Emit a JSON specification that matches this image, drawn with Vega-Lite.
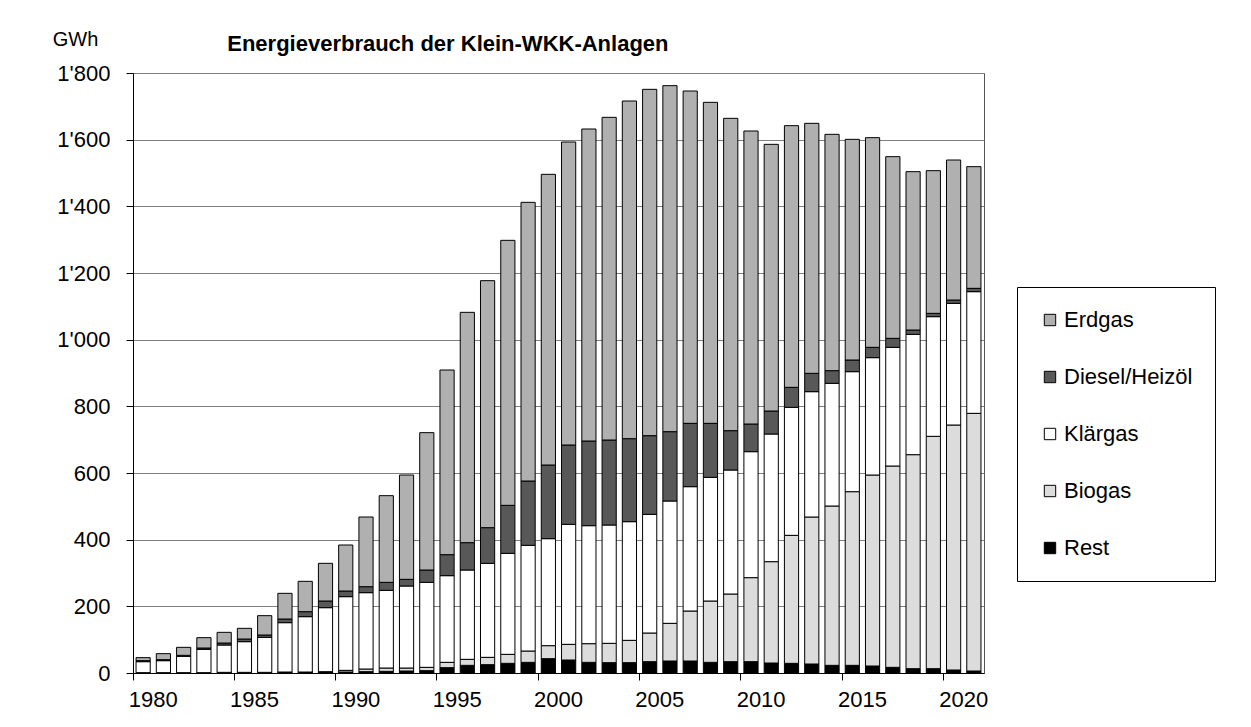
{
  "$schema": "https://vega.github.io/schema/vega-lite/v6.json",
  "width": 851,
  "height": 600,
  "autosize": {"type": "none"},
  "padding": {"left": 133, "top": 73, "right": 267, "bottom": 54},
  "background": "white",
  "title": {
    "text": "Energieverbrauch der Klein-WKK-Anlagen",
    "anchor": "start",
    "dx": 175,
    "dy": 47,
    "fontSize": 22,
    "fontWeight": "bold",
    "font": "Liberation Sans",
    "color": "black",
    "offset": 20
  },
  "data": {
    "values": [
      {"year": 1980, "Rest": 1, "Biogas": 0, "Klärgas": 33, "Diesel/Heizöl": 3, "Erdgas": 9},
      {"year": 1981, "Rest": 1, "Biogas": 0, "Klärgas": 36, "Diesel/Heizöl": 3, "Erdgas": 18},
      {"year": 1982, "Rest": 1, "Biogas": 0, "Klärgas": 49, "Diesel/Heizöl": 3, "Erdgas": 24},
      {"year": 1983, "Rest": 1, "Biogas": 0, "Klärgas": 70, "Diesel/Heizöl": 4, "Erdgas": 31},
      {"year": 1984, "Rest": 2, "Biogas": 0, "Klärgas": 82, "Diesel/Heizöl": 6, "Erdgas": 32},
      {"year": 1985, "Rest": 2, "Biogas": 0, "Klärgas": 92, "Diesel/Heizöl": 8, "Erdgas": 32},
      {"year": 1986, "Rest": 2, "Biogas": 0, "Klärgas": 105, "Diesel/Heizöl": 7, "Erdgas": 58},
      {"year": 1987, "Rest": 3, "Biogas": 0, "Klärgas": 148, "Diesel/Heizöl": 11, "Erdgas": 77},
      {"year": 1988, "Rest": 3, "Biogas": 0, "Klärgas": 166, "Diesel/Heizöl": 15, "Erdgas": 91},
      {"year": 1989, "Rest": 3, "Biogas": 1, "Klärgas": 192, "Diesel/Heizöl": 20, "Erdgas": 113},
      {"year": 1990, "Rest": 3, "Biogas": 5, "Klärgas": 221, "Diesel/Heizöl": 17, "Erdgas": 138},
      {"year": 1991, "Rest": 4, "Biogas": 8, "Klärgas": 229, "Diesel/Heizöl": 18, "Erdgas": 209},
      {"year": 1992, "Rest": 5, "Biogas": 10, "Klärgas": 233, "Diesel/Heizöl": 24, "Erdgas": 260},
      {"year": 1993, "Rest": 6, "Biogas": 9, "Klärgas": 246, "Diesel/Heizöl": 20, "Erdgas": 313},
      {"year": 1994, "Rest": 7, "Biogas": 10, "Klärgas": 255, "Diesel/Heizöl": 37, "Erdgas": 412},
      {"year": 1995, "Rest": 16, "Biogas": 16, "Klärgas": 260, "Diesel/Heizöl": 63, "Erdgas": 554},
      {"year": 1996, "Rest": 23, "Biogas": 18, "Klärgas": 268, "Diesel/Heizöl": 82, "Erdgas": 691},
      {"year": 1997, "Rest": 25, "Biogas": 22, "Klärgas": 282, "Diesel/Heizöl": 107, "Erdgas": 741},
      {"year": 1998, "Rest": 29, "Biogas": 27, "Klärgas": 303, "Diesel/Heizöl": 144, "Erdgas": 795},
      {"year": 1999, "Rest": 32, "Biogas": 34, "Klärgas": 317, "Diesel/Heizöl": 193, "Erdgas": 836},
      {"year": 2000, "Rest": 43, "Biogas": 39, "Klärgas": 321, "Diesel/Heizöl": 221, "Erdgas": 872},
      {"year": 2001, "Rest": 39, "Biogas": 47, "Klärgas": 360, "Diesel/Heizöl": 238, "Erdgas": 909},
      {"year": 2002, "Rest": 32, "Biogas": 56, "Klärgas": 354, "Diesel/Heizöl": 254, "Erdgas": 936},
      {"year": 2003, "Rest": 31, "Biogas": 58, "Klärgas": 355, "Diesel/Heizöl": 255, "Erdgas": 968},
      {"year": 2004, "Rest": 31, "Biogas": 67, "Klärgas": 356, "Diesel/Heizöl": 249, "Erdgas": 1013},
      {"year": 2005, "Rest": 34, "Biogas": 86, "Klärgas": 356, "Diesel/Heizöl": 236, "Erdgas": 1039},
      {"year": 2006, "Rest": 36, "Biogas": 113, "Klärgas": 367, "Diesel/Heizöl": 208, "Erdgas": 1038},
      {"year": 2007, "Rest": 36, "Biogas": 150, "Klärgas": 373, "Diesel/Heizöl": 190, "Erdgas": 997},
      {"year": 2008, "Rest": 32, "Biogas": 184, "Klärgas": 371, "Diesel/Heizöl": 162, "Erdgas": 963},
      {"year": 2009, "Rest": 34, "Biogas": 203, "Klärgas": 372, "Diesel/Heizöl": 118, "Erdgas": 937},
      {"year": 2010, "Rest": 34, "Biogas": 252, "Klärgas": 378, "Diesel/Heizöl": 83, "Erdgas": 879},
      {"year": 2011, "Rest": 30, "Biogas": 304, "Klärgas": 383, "Diesel/Heizöl": 69, "Erdgas": 800},
      {"year": 2012, "Rest": 29, "Biogas": 384, "Klärgas": 384, "Diesel/Heizöl": 60, "Erdgas": 785},
      {"year": 2013, "Rest": 27, "Biogas": 441, "Klärgas": 376, "Diesel/Heizöl": 55, "Erdgas": 750},
      {"year": 2014, "Rest": 23, "Biogas": 478, "Klärgas": 368, "Diesel/Heizöl": 38, "Erdgas": 709},
      {"year": 2015, "Rest": 23, "Biogas": 521, "Klärgas": 360, "Diesel/Heizöl": 35, "Erdgas": 662},
      {"year": 2016, "Rest": 21, "Biogas": 573, "Klärgas": 352, "Diesel/Heizöl": 31, "Erdgas": 629},
      {"year": 2017, "Rest": 17, "Biogas": 604, "Klärgas": 356, "Diesel/Heizöl": 27, "Erdgas": 545},
      {"year": 2018, "Rest": 13, "Biogas": 642, "Klärgas": 361, "Diesel/Heizöl": 13, "Erdgas": 475},
      {"year": 2019, "Rest": 13, "Biogas": 697, "Klärgas": 359, "Diesel/Heizöl": 10, "Erdgas": 428},
      {"year": 2020, "Rest": 9, "Biogas": 735, "Klärgas": 365, "Diesel/Heizöl": 10, "Erdgas": 420},
      {"year": 2021, "Rest": 6, "Biogas": 773, "Klärgas": 365, "Diesel/Heizöl": 10, "Erdgas": 365}
    ]
  },
  "transform": [
    {"fold": ["Rest", "Biogas", "Klärgas", "Diesel/Heizöl", "Erdgas"], "as": ["src", "gwh"]},
    {"calculate": "indexof(['Rest','Biogas','Klärgas','Diesel/Heizöl','Erdgas'], datum.src)", "as": "ord"}
  ],
  "mark": {"type": "bar", "width": {"band": 0.7}, "stroke": "black", "strokeWidth": 1},
  "encoding": {
    "x": {
      "field": "year",
      "type": "ordinal",
      "scale": {"paddingInner": 0, "paddingOuter": 0},
      "axis": {
        "title": null,
        "values": [1980, 1985, 1990, 1995, 2000, 2005, 2010, 2015, 2020],
        "labelAngle": 0,
        "bandPosition": 0,
        "labelOffset": 10.13,
        "tickSize": 7,
        "labelPadding": 9,
        "grid": false
      }
    },
    "y": {
      "field": "gwh",
      "type": "quantitative",
      "stack": "zero",
      "scale": {"domain": [0, 1800], "nice": false},
      "axis": {
        "values": [0, 200, 400, 600, 800, 1000, 1200, 1400, 1600, 1800],
        "title": "GWh",
        "titleAngle": 0,
        "titleX": -58,
        "titleY": -28,
        "titleAlign": "center",
        "titleBaseline": "alphabetic",
        "titleFontSize": 20,
        "titleFontWeight": "normal",
        "titleFont": "Liberation Sans",
        "titleColor": "black",
        "labelExpr": "replace(format(datum.value, ','), ',', \"'\")",
        "grid": true,
        "gridColor": "#808080",
        "gridWidth": 1,
        "tickSize": 7,
        "labelPadding": 16
      }
    },
    "color": {
      "field": "src",
      "type": "nominal",
      "scale": {
        "domain": ["Erdgas", "Diesel/Heizöl", "Klärgas", "Biogas", "Rest"],
        "range": ["#b0b0b0", "#585858", "#ffffff", "#dcdcdc", "#000000"]
      },
      "legend": {
        "title": null,
        "orient": "none",
        "legendX": 884,
        "legendY": 214,
        "symbolType": "square",
        "symbolSize": 130,
        "symbolStrokeColor": "black",
        "symbolStrokeWidth": 1,
        "symbolOpacity": 1,
        "labelFontSize": 22,
        "labelFont": "Liberation Sans",
        "labelColor": "black",
        "labelOffset": 3,
        "rowPadding": 35,
        "padding": 22,
        "strokeColor": "black",
        "fillColor": "white"
      }
    },
    "order": {"field": "ord", "type": "quantitative", "sort": "ascending"}
  },
  "config": {
    "font": "Liberation Sans",
    "view": {"stroke": "#555555", "strokeWidth": 1},
    "axis": {
      "labelFont": "Liberation Sans",
      "labelFontSize": 22,
      "labelColor": "black",
      "domainColor": "black",
      "tickColor": "black",
      "domainWidth": 1,
      "tickWidth": 1
    }
  }
}
